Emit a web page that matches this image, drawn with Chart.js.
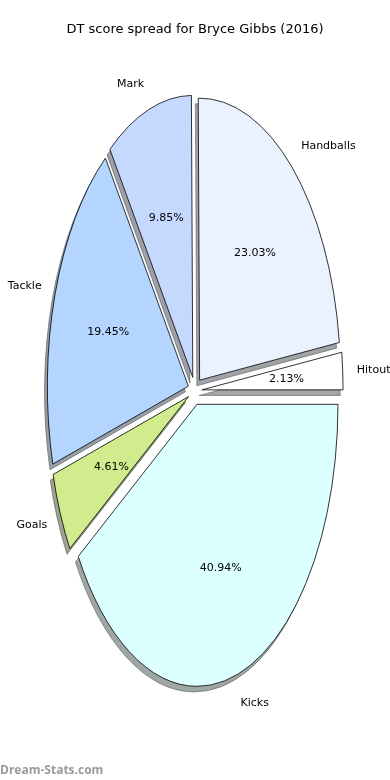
<!DOCTYPE html>
<html>
<head>
<meta charset="utf-8">
<script src="https://cdn.jsdelivr.net/npm/chart.js@4.4.0/dist/chart.umd.min.js"></script>
<style>
    html, body { margin: 0; padding: 0; background: #fff; }
    #wrap { position: relative; width: 390px; height: 780px; }
    #mark { position: absolute; left: 0; top: 761px; font: bold 12px 'Open Sans', sans-serif; color: #9a9a9a; }
</style>
</head>
<body>
<div id="wrap">
    <canvas id="pieChart" width="390" height="780"></canvas>
    <div id="mark">Dream-Stats.com</div>
</div>
<script>
// Slices in matplotlib order (counter-clockwise from 3 o'clock)
const categories = ['Hitout', 'Handballs', 'Mark', 'Tackle', 'Goals', 'Kicks'];
const shares = [2.13, 23.03, 9.85, 19.45, 4.61, 40.94];
const sliceColors = ['#ffffff', '#eaf1ff', '#c5d9ff', '#b3d5ff', '#d0ec8c', '#dcffff'];

const EXPLODE = 0.05;   // fraction of radius
const STRETCH = 2;      // pie is drawn as a tall ellipse
const FONT = '11px "DejaVu Sans"';

// Chart.js goes clockwise, so reverse to keep the same layout
const labels = [...categories].reverse();
const values = [...shares].reverse();
const colors = [...sliceColors].reverse();

function shadowOf(hex) {
    const n = parseInt(hex.slice(1), 16);
    const r = (n >> 16) & 255, g = (n >> 8) & 255, b = n & 255;
    return `rgba(${Math.round(r * 0.3)}, ${Math.round(g * 0.3)}, ${Math.round(b * 0.3)}, 0.5)`;
}

// Draw the wedges ourselves as ellipse sectors, using the angles Chart.js computed
const ellipsePie = {
    id: 'ellipsePie',
    beforeDatasetsDraw(chart) {
        const ctx = chart.ctx;
        const ds = chart.data.datasets[0];
        const total = ds.data.reduce((a, b) => a + b, 0);

        const geo = chart.getDatasetMeta(0).data.map(arc => {
            const p = arc.getProps(['x', 'y', 'startAngle', 'endAngle', 'outerRadius'], true);
            const mid = (p.startAngle + p.endAngle) / 2;
            const ex = p.outerRadius * EXPLODE;
            return { ...p, mid, cx: p.x + Math.cos(mid) * ex, cy: p.y + Math.sin(mid) * ex * STRETCH };
        });

        const wedge = (g, dx, dy) => {
            ctx.beginPath();
            ctx.moveTo(g.cx + dx, g.cy + dy);
            ctx.ellipse(g.cx + dx, g.cy + dy, g.outerRadius, g.outerRadius * STRETCH, 0, g.startAngle, g.endAngle);
            ctx.closePath();
        };

        ctx.save();
        // shadows first
        geo.forEach((g, i) => {
            const c = shadowOf(ds.backgroundColor[i]);
            wedge(g, -0.02 * g.outerRadius, 0.02 * g.outerRadius * STRETCH);
            ctx.fillStyle = c;
            ctx.strokeStyle = c;
            ctx.lineWidth = 1;
            ctx.fill();
            ctx.stroke();
        });
        geo.forEach((g, i) => {
            wedge(g, 0, 0);
            ctx.fillStyle = ds.backgroundColor[i];
            ctx.fill();
            ctx.strokeStyle = '#000';
            ctx.lineWidth = 0.8;
            ctx.stroke();
        });

        // labels and percentages
        ctx.fillStyle = '#000';
        ctx.font = FONT;
        ctx.textBaseline = 'middle';
        geo.forEach((g, i) => {
            const cos = Math.cos(g.mid), sin = Math.sin(g.mid);
            const r = g.outerRadius;
            ctx.textAlign = cos > 0 ? 'left' : 'right';
            ctx.fillText(chart.data.labels[i], g.cx + cos * r * 1.1, g.cy + sin * r * 1.1 * STRETCH + 1);
            ctx.textAlign = 'center';
            const pct = (ds.data[i] / total * 100).toFixed(2) + '%';
            ctx.fillText(pct, g.cx + cos * r * 0.6, g.cy + sin * r * 0.6 * STRETCH + 1);
        });
        ctx.restore();
        return false;
    }
};

new Chart(document.getElementById('pieChart'), {
    type: 'pie',
    data: {
        labels: labels,
        datasets: [{
            data: values,
            backgroundColor: colors,
            borderWidth: 0,
            offset: 0
        }]
    },
    options: {
        responsive: false,
        animation: false,
        rotation: 90,
        layout: { padding: { left: 54, right: 54, top: 0, bottom: 46 } },
        plugins: {
            legend: { display: false },
            tooltip: { enabled: false },
            title: {
                display: true,
                text: 'DT score spread for Bryce Gibbs (2016)',
                color: '#000',
                font: { family: 'DejaVu Sans', size: 13, weight: 'normal' },
                padding: { top: 22, bottom: 10 }
            }
        }
    },
    plugins: [ellipsePie]
});
</script>
</body>
</html>
